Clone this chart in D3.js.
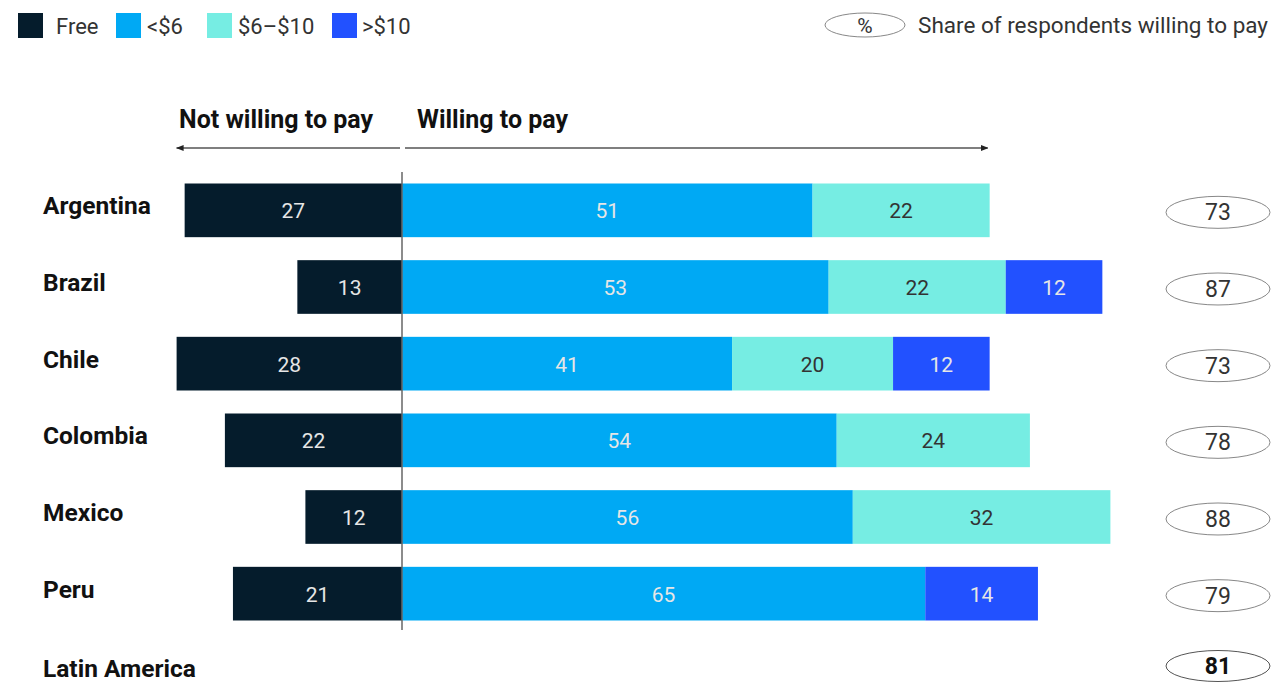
<!DOCTYPE html>
<html lang="en">
<head>
    <meta charset="UTF-8">
    <title>Willingness to pay</title>
    <script src="https://cdn.jsdelivr.net/npm/d3@7"></script>
    <style>
        body { margin: 0; background: #fff; }
        text { font-family: Roboto, "Noto Sans", sans-serif; }
    </style>
</head>
<body>
<div id="chart"></div>
<script>
    // data
    const countries = ['Argentina', 'Brazil', 'Chile', 'Colombia', 'Mexico', 'Peru'];
    const free = [27, 13, 28, 22, 12, 21];
    const under6 = [51, 53, 41, 54, 56, 65];
    const mid6to10 = [22, 22, 20, 24, 32, 0];
    const over10 = [0, 12, 12, 0, 0, 14];
    const shareWilling = [73, 87, 73, 78, 88, 79];
    const totalLabel = 'Latin America';
    const totalShare = 81;

    const legendKeys = ['Free', '<$6', '$6–$10', '>$10'];
    const colors = ['#051c2c', '#00a9f4', '#76ede3', '#2251ff'];

    const W = 1273, H = 682;
    const svg = d3.select('#chart').append('svg')
        .attr('width', W).attr('height', H);

    const k = 8.05;
    const x = d3.scaleLinear().domain([-28, 88]).range([402 - 28 * k, 402 + 88 * k]);
    const y = d3.scaleBand().domain(countries).range([172, 632]).paddingInner(0.3).paddingOuter(0.15);
    const bw = y.bandwidth();

    // legend
    const legSq = [18, 116, 207, 332];
    const legTx = [56, 147, 238, 362];
    legendKeys.forEach((key, i) => {
        svg.append('rect').attr('x', legSq[i]).attr('y', 13).attr('width', 25).attr('height', 25).attr('fill', colors[i]);
        svg.append('text').attr('x', legTx[i]).attr('y', 34).attr('font-size', 22).attr('fill', '#333').text(key);
    });

    svg.append('ellipse').attr('cx', 865).attr('cy', 25).attr('rx', 40).attr('ry', 12)
        .attr('fill', 'none').attr('stroke', '#888').attr('stroke-width', 1);
    svg.append('text').attr('x', 865).attr('y', 33).attr('text-anchor', 'middle').attr('font-size', 21).attr('fill', '#333').text('%');
    svg.append('text').attr('x', 1268).attr('y', 33).attr('text-anchor', 'end').attr('font-size', 22.5).attr('fill', '#333')
        .text('Share of respondents willing to pay');

    // headers with arrows
    svg.append('defs').append('marker').attr('id', 'ah').attr('viewBox', '0 0 10 10')
        .attr('refX', 9).attr('refY', 5).attr('markerWidth', 6).attr('markerHeight', 6).attr('orient', 'auto-start-reverse')
        .append('path').attr('d', 'M0,1L10,5L0,9Z').attr('fill', '#222');
    svg.append('text').attr('x', 179).attr('y', 128).attr('font-size', 25).attr('font-weight', 700).attr('fill', '#111').text('Not willing to pay');
    svg.append('text').attr('x', 417).attr('y', 128).attr('font-size', 25).attr('font-weight', 700).attr('fill', '#111').text('Willing to pay');
    svg.append('line').attr('x1', x(0) - 2).attr('x2', x(-28)).attr('y1', 148).attr('y2', 148)
        .attr('stroke', '#555').attr('stroke-width', 1.3).attr('marker-end', 'url(#ah)');
    svg.append('line').attr('x1', x(0) + 3).attr('x2', x(73) - 2).attr('y1', 148).attr('y2', 148)
        .attr('stroke', '#555').attr('stroke-width', 1.3).attr('marker-end', 'url(#ah)');

    // stacked segments
    const rows = countries.map((c, i) => {
        const segs = [];
        segs.push({ k: 0, v: free[i], x0: -free[i], x1: 0 });
        let acc = 0;
        [under6[i], mid6to10[i], over10[i]].forEach((v, j) => {
            if (v > 0) segs.push({ k: j + 1, v: v, x0: acc, x1: acc + v });
            acc += v;
        });
        return { c, segs };
    });

    const g = svg.selectAll('g.row').data(rows).enter().append('g').attr('class', 'row')
        .attr('transform', d => `translate(0,${y(d.c)})`);

    g.selectAll('rect').data(d => d.segs).enter().append('rect')
        .attr('x', d => x(d.x0)).attr('width', d => x(d.x1) - x(d.x0))
        .attr('y', 0).attr('height', bw)
        .attr('fill', d => colors[d.k]);

    g.selectAll('text.val').data(d => d.segs).enter().append('text').attr('class', 'val')
        .attr('x', d => (x(d.x0) + x(d.x1)) / 2).attr('y', bw / 2 + 8)
        .attr('text-anchor', 'middle').attr('font-size', 21)
        .attr('fill', d => d.k === 2 ? '#333' : '#e6e6e6')
        .text(d => d.v);

    g.append('text').attr('x', 43).attr('y', bw / 2 + 4)
        .attr('font-size', 24.5).attr('font-weight', 700).attr('fill', '#111').text(d => d.c);

    // share ellipses
    g.append('ellipse').attr('cx', 1218).attr('cy', bw / 2 + 2).attr('rx', 52).attr('ry', 16)
        .attr('fill', 'none').attr('stroke', '#888');
    g.append('text').attr('x', 1218).attr('y', bw / 2 + 10).attr('text-anchor', 'middle')
        .attr('font-size', 23).attr('fill', '#333').text((d, i) => shareWilling[i]);

    // zero line
    svg.append('line').attr('x1', x(0)).attr('x2', x(0)).attr('y1', 172).attr('y2', 630)
        .attr('stroke', '#666').attr('stroke-width', 1.5);

    // total row
    svg.append('text').attr('x', 43).attr('y', 677).attr('font-size', 24.5).attr('font-weight', 700).attr('fill', '#111').text(totalLabel);
    svg.append('ellipse').attr('cx', 1218).attr('cy', 666).attr('rx', 52).attr('ry', 15.5)
        .attr('fill', 'none').attr('stroke', '#555');
    svg.append('text').attr('x', 1218).attr('y', 674).attr('text-anchor', 'middle')
        .attr('font-size', 23).attr('font-weight', 700).attr('fill', '#111').text(totalShare);
</script>
</body>
</html>
